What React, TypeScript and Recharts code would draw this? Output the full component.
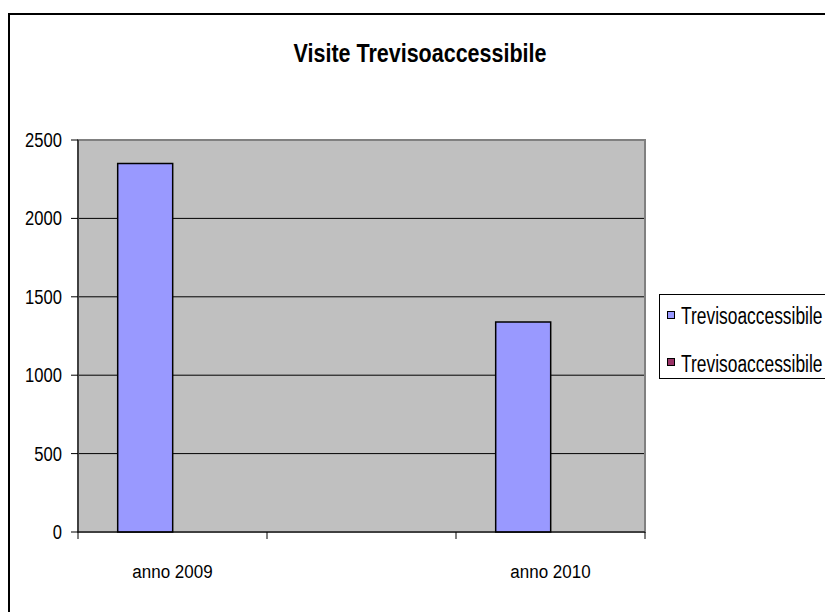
import { BarChart, Bar, XAxis, YAxis, CartesianGrid, ReferenceArea } from "recharts";

// ── data ───────────────────────────────────────────────────────────────────
const CATEGORIES = ["anno 2009", "", "anno 2010"];
const SERIES_1 = [2350, null, 1340];
const SERIES_2 = [null, null, null];
const SERIES_NAMES = ["Trevisoaccessibile", "Trevisoaccessibile"];
const SERIES_COLORS = ["#9999FF", "#993366"];
const Y_TICKS = [0, 500, 1000, 1500, 2000, 2500];
const GRID_VALUES = [500, 1000, 1500, 2000];
const TITLE = "Visite Trevisoaccessibile";

const W = 825;
const H = 612;
const PLOT_LEFT = 78;
const PLOT_RIGHT = 645;
const FONT = "'Liberation Sans', Arial, sans-serif";

const data = CATEGORIES.map((name, i) => ({ name, s1: SERIES_1[i], s2: SERIES_2[i] }));

// ── ticks ──────────────────────────────────────────────────────────────────
function XTick(props: { x?: number; y?: number; index?: number; payload?: { value: string } }) {
  const { x = 0, y = 0, index = 0, payload } = props;
  const band = (PLOT_RIGHT - PLOT_LEFT) / CATEGORIES.length;
  const left = x - band / 2;
  return (
    <g>
      <line x1={left} x2={left} y1={y} y2={y + 7} stroke="#000" />
      {index === CATEGORIES.length - 1 && (
        <line x1={x + band / 2} x2={x + band / 2} y1={y} y2={y + 7} stroke="#000" />
      )}
      <text
        transform={`translate(${x},${y + 46}) scale(1,1.12)`}
        textAnchor="middle"
        fontSize={17}
        fontFamily={FONT}
        fill="#000"
      >
        {payload?.value}
      </text>
    </g>
  );
}

function YTick(props: { x?: number; y?: number; payload?: { value: number } }) {
  const { x = 0, y = 0, payload } = props;
  return (
    <text
      transform={`translate(${x},${y + 7}) scale(1,1.17)`}
      textAnchor="end"
      fontSize={16.6}
      fontFamily={FONT}
      fill="#000"
    >
      {payload?.value}
    </text>
  );
}

// ── main ───────────────────────────────────────────────────────────────────
export default function App() {
  return (
    <div style={{ position: "fixed", left: 0, top: 0, width: W, height: H, overflow: "hidden", background: "#fff" }}>
      <div
        style={{
          position: "absolute", left: 8, top: 13, width: 900, height: 700,
          border: "2px solid #000", boxSizing: "border-box",
        }}
      />
      <div style={{ position: "absolute", left: 0, top: 0 }}>
        <BarChart
          width={W}
          height={H}
          data={data}
          margin={{ top: 140, right: W - PLOT_RIGHT, bottom: 40, left: 8 }}
          barCategoryGap="21%"
          barGap={0}
        >
          <CartesianGrid
            vertical={false}
            horizontalValues={GRID_VALUES}
            stroke="#000"
            fill="#C0C0C0"
            fillOpacity={1}
          />
          <ReferenceArea y1={0} y2={2500} fill="none" stroke="#808080" strokeWidth={2} ifOverflow="visible" />
          <XAxis
            dataKey="name"
            interval={0}
            tickSize={0}
            tickMargin={0}
            tickLine={false}
            height={40}
            axisLine={{ stroke: "#000" }}
            tick={<XTick />}
          />
          <YAxis
            width={70}
            domain={[0, 2500]}
            ticks={Y_TICKS}
            tickSize={7}
            tickMargin={9}
            tickLine={{ stroke: "#000" }}
            axisLine={{ stroke: "#000" }}
            tick={<YTick />}
          />
          <Bar dataKey="s1" name={SERIES_NAMES[0]} fill={SERIES_COLORS[0]} stroke="#000" strokeWidth={1.5} isAnimationActive={false} />
          <Bar dataKey="s2" name={SERIES_NAMES[1]} fill={SERIES_COLORS[1]} stroke="#000" strokeWidth={1.5} isAnimationActive={false} />
        </BarChart>
      </div>

      {/* title */}
      <svg width={W} height={H} style={{ position: "absolute", left: 0, top: 0, pointerEvents: "none" }}>
        <text
          transform="translate(420,62) scale(1,1.2)"
          textAnchor="middle"
          fontSize={21.5}
          fontWeight="bold"
          fontFamily={FONT}
          fill="#000"
        >
          {TITLE}
        </text>
      </svg>

      {/* legend */}
      <svg width={200} height={86} style={{ position: "absolute", left: 659, top: 294 }}>
        <rect x={0.5} y={0.5} width={199} height={84} fill="#fff" stroke="#000" />
        {SERIES_NAMES.map((name, i) => (
          <g key={i}>
            <rect x={8.5} y={17.5 + i * 47} width={7} height={7} fill={SERIES_COLORS[i]} stroke="#000" />
            <text
              transform={`translate(22,${30 + i * 48}) scale(1,1.33)`}
              fontSize={17.4}
              fontFamily={FONT}
              fill="#000"
            >
              {name}
            </text>
          </g>
        ))}
      </svg>
    </div>
  );
}
